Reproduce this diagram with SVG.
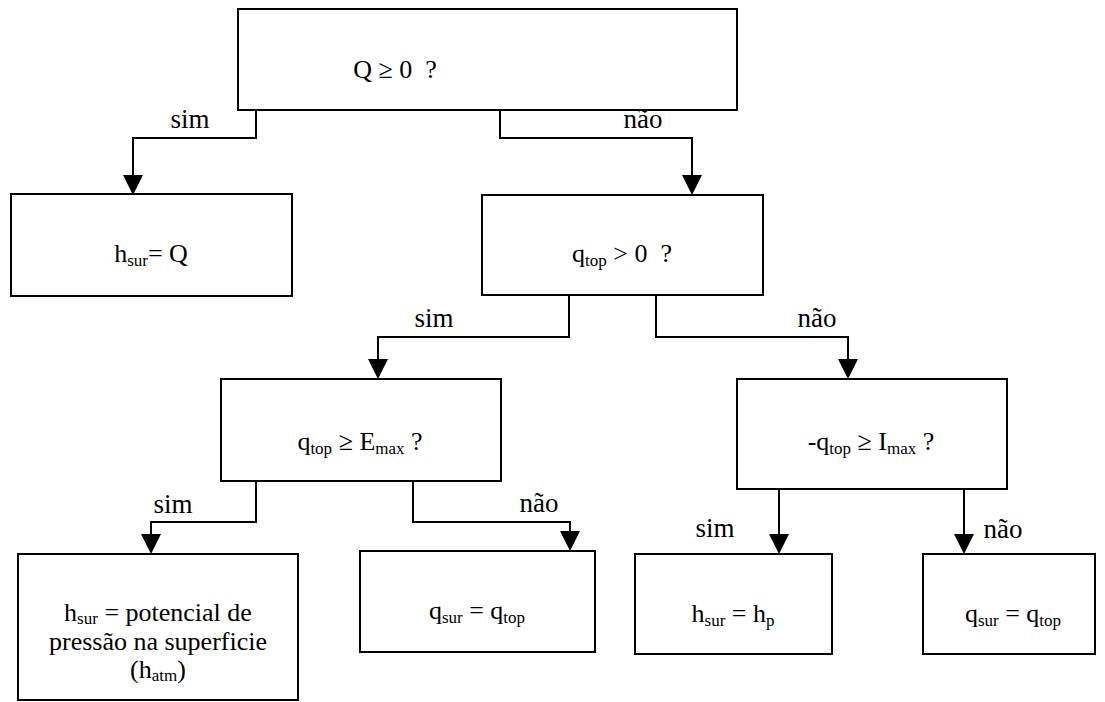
<svg xmlns="http://www.w3.org/2000/svg" width="1105" height="702" viewBox="0 0 1105 702">
<style>
text{font-family:'Liberation Serif','DejaVu Serif',Times,serif;fill:#000;text-anchor:middle}
.t{font-size:26px;white-space:pre}
.lbl{font-size:27px}
.s{font-size:17px}
.box{fill:#fff;stroke:#000;stroke-width:2}
.c{fill:none;stroke:#000;stroke-width:2}
</style>
<defs>
<marker id="ah" markerUnits="userSpaceOnUse" markerWidth="20" markerHeight="20" refX="10" refY="10" orient="auto" viewBox="0 0 20 20">
<path d="M0,0 L20,10 L0,20 z" fill="#000"/>
</marker>
</defs>
<rect width="1105" height="702" fill="#fff"/>
<g id="connectors">
<path class="c" d="M256,110 V138 H133 V185" marker-end="url(#ah)"/>
<path class="c" d="M500,110 V138 H692 V185" marker-end="url(#ah)"/>
<path class="c" d="M569,295 V337 H378 V369" marker-end="url(#ah)"/>
<path class="c" d="M656,295 V337 H848 V369" marker-end="url(#ah)"/>
<path class="c" d="M256,481 V522 H151 V544" marker-end="url(#ah)"/>
<path class="c" d="M413,481 V522 H570 V541" marker-end="url(#ah)"/>
<path class="c" d="M779,489 V544" marker-end="url(#ah)"/>
<path class="c" d="M964,489 V544" marker-end="url(#ah)"/>
<text class="lbl" x="190" y="128">sim</text>
<text class="lbl" x="643" y="128">não</text>
<text class="lbl" x="434" y="327">sim</text>
<text class="lbl" x="817" y="327">não</text>
<text class="lbl" x="173" y="513">sim</text>
<text class="lbl" x="539" y="512">não</text>
<text class="lbl" x="715" y="537">sim</text>
<text class="lbl" x="1003" y="538">não</text>
</g>
<g id="n-q0">
<rect class="box" x="238" y="9" width="499" height="101"/>
<text class="t" x="395" y="78">Q ≥ 0  ?</text>
</g>
<g id="n-hsurQ">
<rect class="box" x="11" y="194" width="281" height="102"/>
<text class="t" x="151" y="262">h<tspan class="s" dy="4">sur</tspan><tspan dy="-4">= Q</tspan></text>
</g>
<g id="n-qtop0">
<rect class="box" x="482" y="195" width="281" height="100"/>
<text class="t" x="622" y="262">q<tspan class="s" dy="4">top</tspan><tspan dy="-4"> &gt; 0  ?</tspan></text>
</g>
<g id="n-emax">
<rect class="box" x="221" y="379" width="280" height="102"/>
<text class="t" x="360" y="450">q<tspan class="s" dy="4">top</tspan><tspan dy="-4"> ≥ E</tspan><tspan class="s" dy="4">max</tspan><tspan dy="-4"> ?</tspan></text>
</g>
<g id="n-imax">
<rect class="box" x="737" y="379" width="270" height="110"/>
<text class="t" x="871" y="450">-q<tspan class="s" dy="4">top</tspan><tspan dy="-4"> ≥ I</tspan><tspan class="s" dy="4">max</tspan><tspan dy="-4"> ?</tspan></text>
</g>
<g id="n-hatm">
<rect class="box" x="18" y="554" width="280" height="146"/>
<text class="t" x="158" y="621">h<tspan class="s" dy="3">sur</tspan><tspan dy="-3"> = potencial de</tspan></text>
<text class="t" x="158" y="650">pressão na superficie</text>
<text class="t" x="158" y="678">(h<tspan class="s" dy="3">atm</tspan><tspan dy="-3">)</tspan></text>
</g>
<g id="n-qsur1">
<rect class="box" x="360" y="551" width="235" height="101"/>
<text class="t" x="477" y="619">q<tspan class="s" dy="4">sur</tspan><tspan dy="-4"> = q</tspan><tspan class="s" dy="4">top</tspan></text>
</g>
<g id="n-hp">
<rect class="box" x="635" y="554" width="197" height="100"/>
<text class="t" x="733" y="622">h<tspan class="s" dy="4">sur</tspan><tspan dy="-4"> = h</tspan><tspan class="s" dy="4">p</tspan></text>
</g>
<g id="n-qsur2">
<rect class="box" x="923" y="554" width="172" height="100"/>
<text class="t" x="1013" y="622">q<tspan class="s" dy="4">sur</tspan><tspan dy="-4"> = q</tspan><tspan class="s" dy="4">top</tspan></text>
</g>
</svg>
